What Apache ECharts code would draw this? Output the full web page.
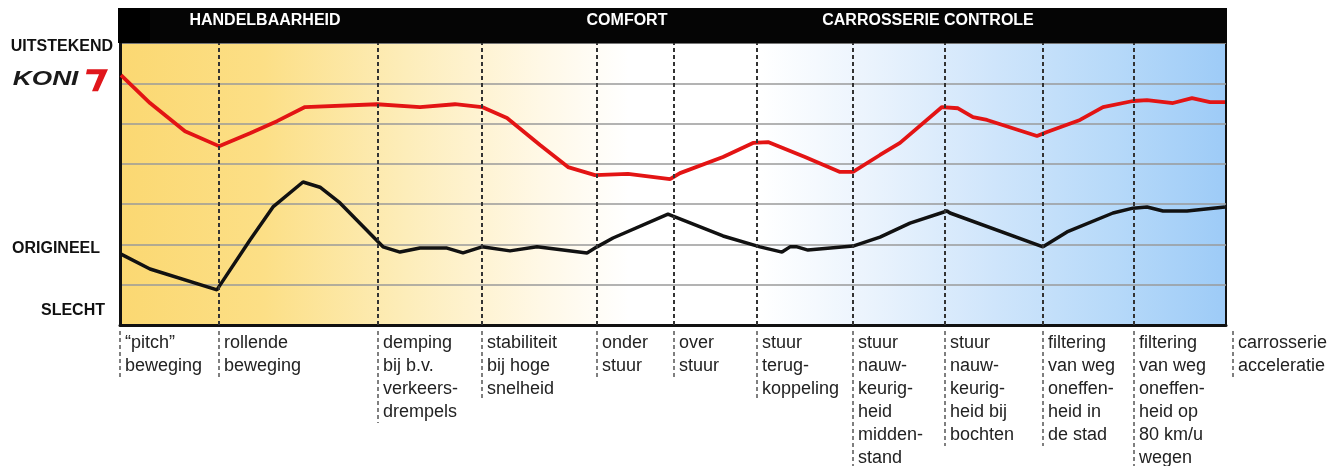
<!DOCTYPE html>
<html>
<head>
<meta charset="utf-8">
<script src="https://cdn.jsdelivr.net/npm/echarts@6/dist/echarts.min.js"></script>
<style>
  html, body { margin: 0; padding: 0; background: #fff; }
  #container { width: 1343px; height: 466px; }
</style>
</head>
<body>
<div id="container"></div>
<script>
// x in chart units (0 .. 1106 across the plot), y from 0 (slecht) to 7
var boundaries = [0, 99, 258, 362, 477, 554, 637, 733, 825, 923, 1014, 1113];
var categories = [
    '\u201cpitch\u201d\nbeweging',
    'rollende\nbeweging',
    'demping\nbij b.v.\nverkeers-\ndrempels',
    'stabiliteit\nbij hoge\nsnelheid',
    'onder\nstuur',
    'over\nstuur',
    'stuur\nterug-\nkoppeling',
    'stuur\nnauw-\nkeurig-\nheid\nmidden-\nstand',
    'stuur\nnauw-\nkeurig-\nheid bij\nbochten',
    'filtering\nvan weg\noneffen-\nheid in\nde stad',
    'filtering\nvan weg\noneffen-\nheid op\n80 km/u\nwegen',
    'carrosserie\nacceleratie'
];
var sections = ['HANDELBAARHEID', 'COMFORT', 'CARROSSERIE CONTROLE'];
var sectionCenters = [145, 507, 808];
var levels = ['UITSTEKEND', 'ORIGINEEL', 'SLECHT'];
var levelValues = [6.9, 1.9, 0.35];

var koni = [
    [1, 6.20], [30, 5.51], [65, 4.81], [99, 4.44], [130, 4.76], [157, 5.06],
    [185, 5.41], [257, 5.48], [300, 5.41], [335, 5.48], [362, 5.41], [387, 5.14],
    [420, 4.47], [448, 3.92], [475, 3.72], [508, 3.75], [550, 3.62], [560, 3.77],
    [603, 4.17], [633, 4.52], [648, 4.54], [685, 4.17], [720, 3.80], [733, 3.80],
    [760, 4.22], [780, 4.52], [822, 5.41], [838, 5.38], [853, 5.16], [867, 5.09],
    [917, 4.69], [927, 4.79], [960, 5.09], [983, 5.41], [1013, 5.56], [1027, 5.58],
    [1053, 5.51], [1072, 5.63], [1090, 5.53], [1105, 5.53]
];
var origineel = [
    [1, 1.76], [30, 1.39], [97, 0.87], [100, 0.99], [130, 2.11], [153, 2.93],
    [183, 3.55], [200, 3.42], [220, 3.03], [263, 1.94], [280, 1.81], [300, 1.91],
    [327, 1.91], [343, 1.79], [362, 1.94], [390, 1.84], [417, 1.94], [467, 1.79],
    [477, 1.94], [493, 2.16], [548, 2.75], [553, 2.70], [603, 2.21], [640, 1.94],
    [662, 1.81], [670, 1.94], [677, 1.94], [688, 1.86], [733, 1.96], [760, 2.18],
    [790, 2.53], [827, 2.83], [830, 2.78], [923, 1.94], [947, 2.31], [993, 2.78],
    [1013, 2.90], [1027, 2.93], [1043, 2.83], [1067, 2.83], [1105, 2.93]
];

var dom = document.getElementById('container');
var myChart = echarts.init(dom);
var font = '"Liberation Sans", Arial, sans-serif';

var option = {
    animation: false,
    grid: {
        left: 120, right: 117, top: 43, bottom: 141,
        show: true,
        borderColor: '#111',
        borderWidth: 2,
        backgroundColor: new echarts.graphic.LinearGradient(0, 0, 1, 0, [
            {offset: 0, color: '#fbd872'},
            {offset: 0.13, color: '#fcdf86'},
            {offset: 0.26, color: '#fdedba'},
            {offset: 0.38, color: '#fff8e6'},
            {offset: 0.46, color: '#ffffff'},
            {offset: 0.58, color: '#ffffff'},
            {offset: 0.68, color: '#eaf3fd'},
            {offset: 0.79, color: '#cfe5fb'},
            {offset: 0.9, color: '#b6d9f9'},
            {offset: 1, color: '#9dcbf7'}
        ])
    },
    xAxis: {
        type: 'value',
        min: 0,
        max: 1106,
        axisLine: {show: true, lineStyle: {color: '#111', width: 3}},
        axisTick: {show: false},
        axisLabel: {show: false},
        splitLine: {show: false}
    },
    yAxis: {
        type: 'value',
        min: 0,
        max: 7,
        interval: 1,
        axisLine: {show: true, lineStyle: {color: '#111', width: 3}},
        axisTick: {show: false},
        axisLabel: {show: false},
        splitLine: {show: true, lineStyle: {color: '#9a9a9a', width: 1.5}}
    },
    series: [
        {
            name: 'origineel',
            type: 'line',
            data: origineel,
            showSymbol: false,
            lineStyle: {color: '#111', width: 3.5},
            markLine: {
                silent: true,
                symbol: 'none',
                label: {show: false},
                lineStyle: {color: '#333', width: 2, type: [4, 3]},
                data: boundaries.slice(1, 11).map(function (b) { return {xAxis: b}; })
            },
            z: 3
        },
        {
            name: 'koni',
            type: 'line',
            data: koni,
            showSymbol: false,
            lineStyle: {color: '#e31414', width: 3.8},
            z: 4
        }
    ]
};

myChart.setOption(option, true);

// header, side labels and category texts placed through the axes
var graphics = [];
var topLeft = myChart.convertToPixel({gridIndex: 0}, [0, 7]);
var bottomRight = myChart.convertToPixel({gridIndex: 0}, [1106, 0]);

graphics.push({
    type: 'rect',
    shape: {x: topLeft[0] - 2, y: 8, width: bottomRight[0] - topLeft[0] + 3, height: topLeft[1] - 8},
    style: {fill: '#050505'},
    z: 10
});
graphics.push({
    type: 'rect',
    shape: {x: topLeft[0] - 2, y: 8, width: 32, height: topLeft[1] - 8},
    style: {fill: '#000'},
    z: 11
});
sections.forEach(function (s, i) {
    var px = myChart.convertToPixel({xAxisIndex: 0}, sectionCenters[i]);
    graphics.push({
        type: 'text', x: px, y: 21, z: 12,
        style: {text: s, fill: '#fff', font: 'bold 16px ' + font, align: 'center', verticalAlign: 'middle'}
    });
});

var levelRight = [113, 100, 105];
levels.forEach(function (l, i) {
    var py = myChart.convertToPixel({yAxisIndex: 0}, levelValues[i]);
    graphics.push({
        type: 'text', x: levelRight[i], y: py, z: 12,
        style: {text: l, fill: '#111', font: 'bold 16px ' + font, align: 'right', verticalAlign: 'middle'}
    });
});

// KONI logo
var koniY = myChart.convertToPixel({yAxisIndex: 0}, 6.1);
graphics.push({
    type: 'text', x: 17, y: koniY, z: 12,
    style: {text: 'KONI', fill: '#1a1a1a', font: 'italic 900 21px ' + font, align: 'left', verticalAlign: 'middle'},
    scaleX: 1.25, originX: 17
});
graphics.push({
    type: 'polygon', z: 12,
    shape: {points: [[87, koniY - 10], [108, koniY - 10], [98, koniY + 12], [92, koniY + 12], [99, koniY - 5], [86, koniY - 5]]},
    style: {fill: '#e0161b'}
});

var axisY = bottomRight[1];
categories.forEach(function (c, i) {
    var px = myChart.convertToPixel({xAxisIndex: 0}, boundaries[i]);
    var lines = c.split('\n').length;
    graphics.push({
        type: 'line', z: 5,
        shape: {x1: px, y1: axisY + 6, x2: px, y2: axisY + 6 + lines * 23},
        style: {stroke: '#555', lineWidth: 1.5, lineDash: [4, 3]}
    });
    graphics.push({
        type: 'text', x: px + 5, y: axisY + 7, z: 6,
        style: {text: c, fill: '#222', font: '18px ' + font, lineHeight: 23, align: 'left', verticalAlign: 'top'}
    });
});

myChart.setOption({graphic: graphics});
</script>
</body>
</html>
